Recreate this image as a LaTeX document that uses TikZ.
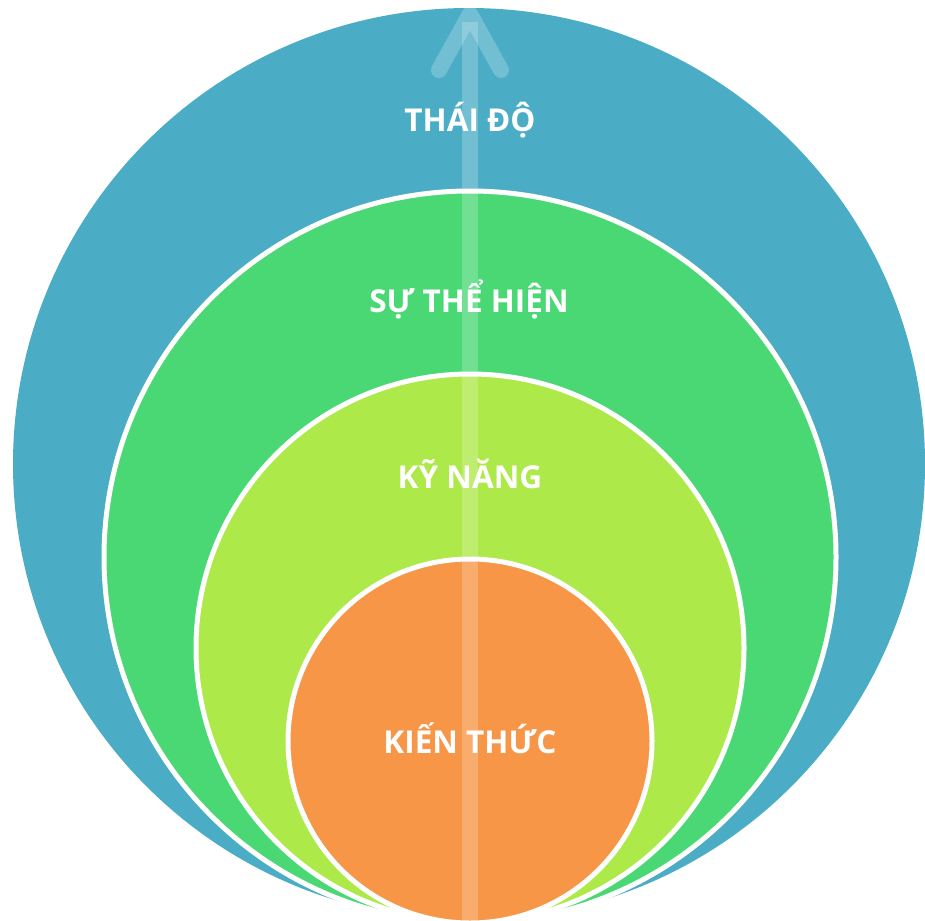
\documentclass[tikz,border=0pt]{standalone}
\usepackage{fontspec}
\setmainfont{Open Sans}
\definecolor{cblue}{RGB}{75,172,198}
\definecolor{cgreen}{RGB}{74,216,116}
\definecolor{clime}{RGB}{173,233,72}
\definecolor{corange}{RGB}{247,150,70}
\begin{document}
\begin{tikzpicture}[x=1pt,y=-1pt,
  ring/.style={draw=white,line width=5pt},
  lbl/.style={text=white,font=\bfseries\fontsize{31.5}{34}\selectfont,inner sep=0pt,anchor=base},
  arrowpart/.style={draw=white,draw opacity=0.22,line width=16pt}]
\useasboundingbox (0,0) rectangle (925,920);
\begin{scope}
\clip (0,0) rectangle (925,920);
\fill[cblue] (469,464) circle (456);
\filldraw[ring,fill=cgreen] (470,557) circle (366);
\filldraw[ring,fill=clime] (470,648) circle (274);
\filldraw[ring,fill=corange] (470,741) circle (182);
\coordinate (abot) at (470,925);
\coordinate (atip) at (470,14);
\coordinate (al) at (439,70);
\coordinate (ar) at (501,70);
\draw[arrowpart,line cap=butt] (abot) -- (470,22);
\draw[arrowpart,line cap=round,line join=round] (al) -- (atip) -- (ar);
\end{scope}
\node[lbl] (t1) at (470,132) {THÁI ĐỘ};
\node[lbl] (t2) at (469,312) {SỰ THỂ HIỆN};
\node[lbl] (t3) at (470,488) {KỸ NĂNG};
\node[lbl] (t4) at (470,753) {KIẾN THỨC};
\end{tikzpicture}
\end{document}
